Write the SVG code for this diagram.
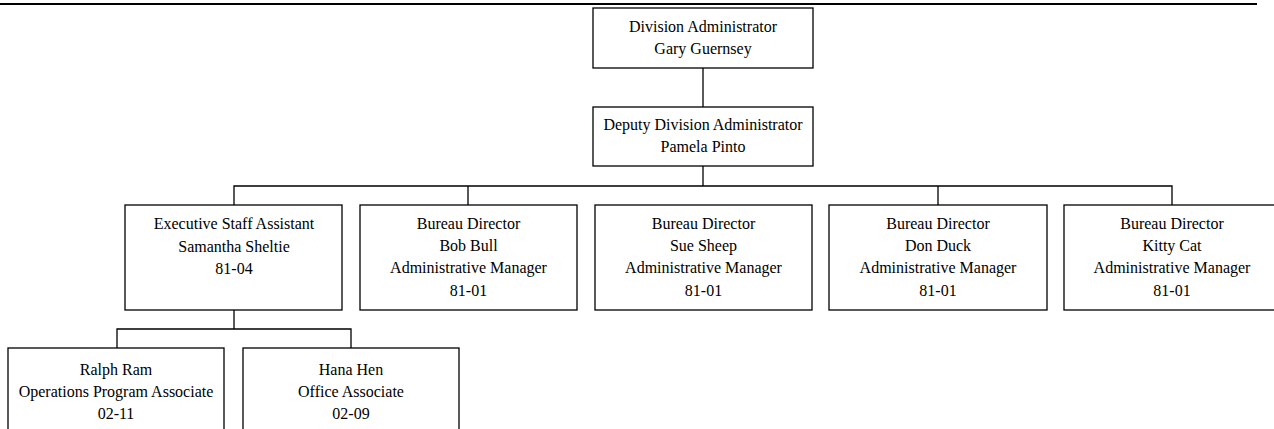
<svg xmlns="http://www.w3.org/2000/svg" width="1274" height="429" viewBox="0 0 1274 429">
  <style>
    .box { fill: #ffffff; stroke: #000000; stroke-width: 1.3; }
    .lbl { font-family: 'Liberation Serif', Tinos, 'Times New Roman', Times, 'DejaVu Serif', serif; font-size: 16px; fill: #000000; text-anchor: middle; }
    .conn { fill: none; stroke: #000000; stroke-width: 1.3; }
  </style>
  <rect x="0" y="3" width="1257" height="2" fill="#000000"/>

  <g id="connectors">
    <path class="conn" d="M703 68 V107"/>
    <path class="conn" d="M703 166 V186"/>
    <path class="conn" d="M234 205 V186 H1172 V205"/>
    <path class="conn" d="M468 186 V205 M938 186 V205"/>
    <path class="conn" d="M234 310 V329"/>
    <path class="conn" d="M117 348 V329 H351 V348"/>
  </g>

  <g id="division-administrator">
    <rect class="box" x="593" y="8" width="220" height="60"/>
    <text class="lbl" x="703" y="31.5">Division Administrator</text>
    <text class="lbl" x="703" y="53.5">Gary Guernsey</text>
  </g>

  <g id="deputy-administrator">
    <rect class="box" x="593" y="107" width="220" height="59"/>
    <text class="lbl" x="703" y="130">Deputy Division Administrator</text>
    <text class="lbl" x="703" y="152">Pamela Pinto</text>
  </g>

  <g id="executive-staff-assistant">
    <rect class="box" x="125" y="205" width="217" height="105"/>
    <text class="lbl" x="234" y="229">Executive Staff Assistant</text>
    <text class="lbl" x="234" y="251.5">Samantha Sheltie</text>
    <text class="lbl" x="234" y="274">81-04</text>
  </g>

  <g id="bureau-bob-bull">
    <rect class="box" x="360" y="205" width="217" height="105"/>
    <text class="lbl" x="468.5" y="228.5">Bureau Director</text>
    <text class="lbl" x="468.5" y="251">Bob Bull</text>
    <text class="lbl" x="468.5" y="273">Administrative Manager</text>
    <text class="lbl" x="468.5" y="295.5">81-01</text>
  </g>

  <g id="bureau-sue-sheep">
    <rect class="box" x="595" y="205" width="217" height="105"/>
    <text class="lbl" x="703.5" y="228.5">Bureau Director</text>
    <text class="lbl" x="703.5" y="251">Sue Sheep</text>
    <text class="lbl" x="703.5" y="273">Administrative Manager</text>
    <text class="lbl" x="703.5" y="295.5">81-01</text>
  </g>

  <g id="bureau-don-duck">
    <rect class="box" x="829" y="205" width="218" height="105"/>
    <text class="lbl" x="938" y="228.5">Bureau Director</text>
    <text class="lbl" x="938" y="251">Don Duck</text>
    <text class="lbl" x="938" y="273">Administrative Manager</text>
    <text class="lbl" x="938" y="295.5">81-01</text>
  </g>

  <g id="bureau-kitty-cat">
    <rect class="box" x="1064" y="205" width="217" height="105"/>
    <text class="lbl" x="1172" y="228.5">Bureau Director</text>
    <text class="lbl" x="1172" y="251">Kitty Cat</text>
    <text class="lbl" x="1172" y="273">Administrative Manager</text>
    <text class="lbl" x="1172" y="295.5">81-01</text>
  </g>

  <g id="ralph-ram">
    <rect class="box" x="8" y="348" width="216" height="100"/>
    <text class="lbl" x="116" y="375">Ralph Ram</text>
    <text class="lbl" x="116" y="397">Operations Program Associate</text>
    <text class="lbl" x="116" y="419">02-11</text>
  </g>

  <g id="hana-hen">
    <rect class="box" x="243" y="348" width="216" height="100"/>
    <text class="lbl" x="351" y="375">Hana Hen</text>
    <text class="lbl" x="351" y="397">Office Associate</text>
    <text class="lbl" x="351" y="419">02-09</text>
  </g>
</svg>
